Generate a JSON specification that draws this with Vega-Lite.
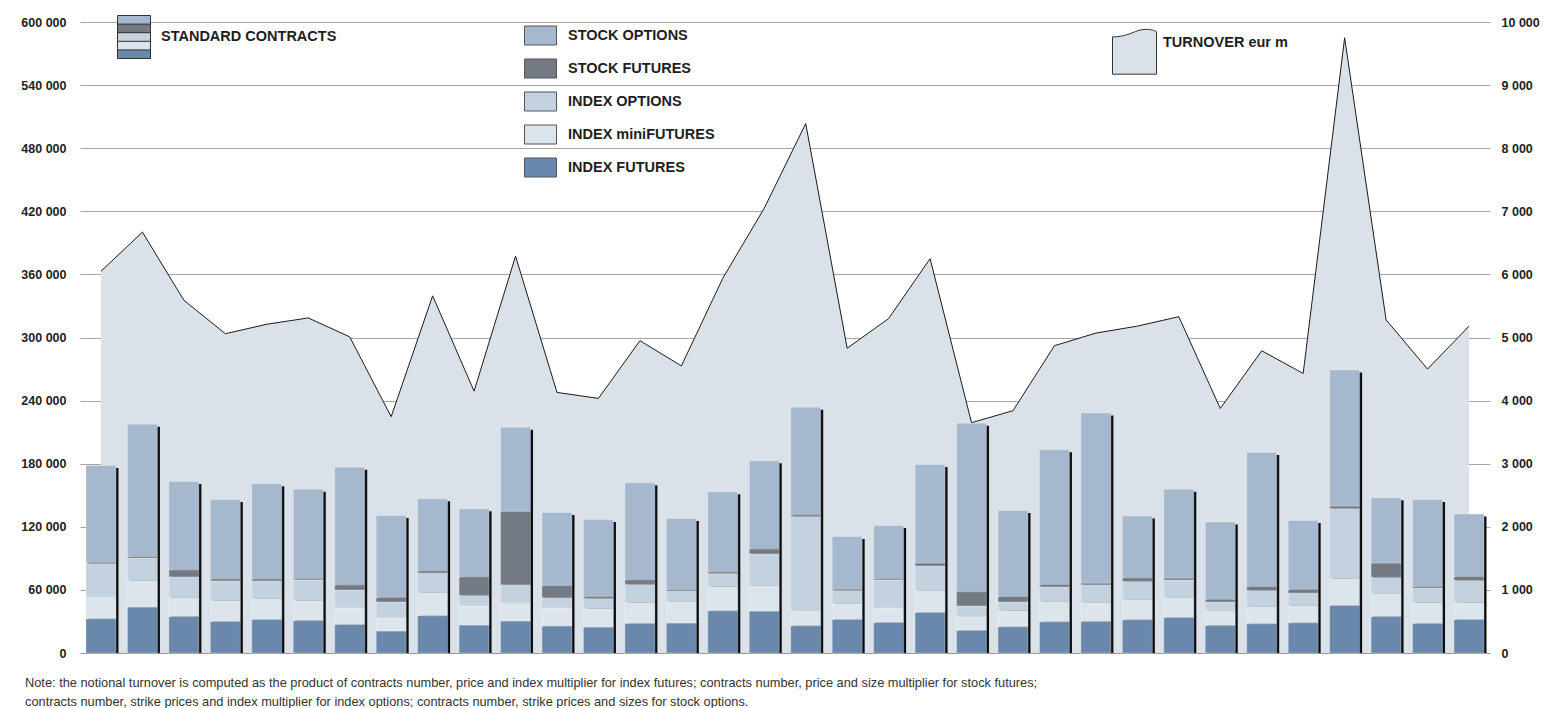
{
  "$schema": "https://vega.github.io/schema/vega-lite/v6.json",
  "width": 1410,
  "height": 631,
  "autosize": {"type": "none"},
  "padding": {"left": 80, "top": 22, "right": 68, "bottom": 55},
  "background": "#ffffff",
  "config": {
    "font": "Liberation Sans",
    "locale": {"number": {"decimal": ".", "thousands": " ", "grouping": [3], "currency": ["", ""]}},
    "view": {"stroke": null},
    "axis": {"labelFont": "Liberation Sans", "labelFontSize": 12.5, "labelFontWeight": "bold", "labelColor": "#222222", "title": null},
    "legend": {"padding": 0, "labelFont": "Liberation Sans", "labelFontSize": 14.5, "labelFontWeight": "bold", "labelColor": "#1e1e1e", "orient": "none", "title": null, "labelLimit": 400, "symbolOpacity": 1}
  },
  "data": {"values": [
    {"p": 1, "INDEX FUTURES": 32600, "INDEX miniFUTURES": 20600, "INDEX OPTIONS": 32000, "STOCK FUTURES": 1000, "STOCK OPTIONS": 92100, "turnover": 6050},
    {"p": 2, "INDEX FUTURES": 43700, "INDEX miniFUTURES": 25000, "INDEX OPTIONS": 21600, "STOCK FUTURES": 1500, "STOCK OPTIONS": 125800, "turnover": 6670},
    {"p": 3, "INDEX FUTURES": 34800, "INDEX miniFUTURES": 17800, "INDEX OPTIONS": 19900, "STOCK FUTURES": 6700, "STOCK OPTIONS": 83900, "turnover": 5590},
    {"p": 4, "INDEX FUTURES": 30100, "INDEX miniFUTURES": 19600, "INDEX OPTIONS": 19000, "STOCK FUTURES": 1900, "STOCK OPTIONS": 75400, "turnover": 5060},
    {"p": 5, "INDEX FUTURES": 32000, "INDEX miniFUTURES": 19600, "INDEX OPTIONS": 17100, "STOCK FUTURES": 1900, "STOCK OPTIONS": 90300, "turnover": 5210},
    {"p": 6, "INDEX FUTURES": 31000, "INDEX miniFUTURES": 18700, "INDEX OPTIONS": 19700, "STOCK FUTURES": 1200, "STOCK OPTIONS": 85200, "turnover": 5310},
    {"p": 7, "INDEX FUTURES": 27200, "INDEX miniFUTURES": 15600, "INDEX OPTIONS": 17100, "STOCK FUTURES": 5000, "STOCK OPTIONS": 111800, "turnover": 5010},
    {"p": 8, "INDEX FUTURES": 20900, "INDEX miniFUTURES": 12400, "INDEX OPTIONS": 15200, "STOCK FUTURES": 4400, "STOCK OPTIONS": 77900, "turnover": 3745},
    {"p": 9, "INDEX FUTURES": 35500, "INDEX miniFUTURES": 21800, "INDEX OPTIONS": 18700, "STOCK FUTURES": 2200, "STOCK OPTIONS": 68400, "turnover": 5660},
    {"p": 10, "INDEX FUTURES": 26600, "INDEX miniFUTURES": 18100, "INDEX OPTIONS": 10100, "STOCK FUTURES": 17700, "STOCK OPTIONS": 64600, "turnover": 4150},
    {"p": 11, "INDEX FUTURES": 30400, "INDEX miniFUTURES": 17100, "INDEX OPTIONS": 17400, "STOCK FUTURES": 69700, "STOCK OPTIONS": 80100, "turnover": 6290},
    {"p": 12, "INDEX FUTURES": 25700, "INDEX miniFUTURES": 17100, "INDEX OPTIONS": 9800, "STOCK FUTURES": 11700, "STOCK OPTIONS": 69300, "turnover": 4130},
    {"p": 13, "INDEX FUTURES": 24700, "INDEX miniFUTURES": 17400, "INDEX OPTIONS": 9800, "STOCK FUTURES": 1900, "STOCK OPTIONS": 73200, "turnover": 4035},
    {"p": 14, "INDEX FUTURES": 28200, "INDEX miniFUTURES": 19600, "INDEX OPTIONS": 17400, "STOCK FUTURES": 4500, "STOCK OPTIONS": 92100, "turnover": 4950},
    {"p": 15, "INDEX FUTURES": 28500, "INDEX miniFUTURES": 20300, "INDEX OPTIONS": 10100, "STOCK FUTURES": 1300, "STOCK OPTIONS": 67700, "turnover": 4550},
    {"p": 16, "INDEX FUTURES": 40200, "INDEX miniFUTURES": 22800, "INDEX OPTIONS": 12700, "STOCK FUTURES": 1600, "STOCK OPTIONS": 76000, "turnover": 5940},
    {"p": 17, "INDEX FUTURES": 39900, "INDEX miniFUTURES": 24100, "INDEX OPTIONS": 30400, "STOCK FUTURES": 4700, "STOCK OPTIONS": 83600, "turnover": 7050},
    {"p": 18, "INDEX FUTURES": 26000, "INDEX miniFUTURES": 14500, "INDEX OPTIONS": 89300, "STOCK FUTURES": 1600, "STOCK OPTIONS": 102300, "turnover": 8390},
    {"p": 19, "INDEX FUTURES": 32000, "INDEX miniFUTURES": 14900, "INDEX OPTIONS": 12600, "STOCK FUTURES": 1300, "STOCK OPTIONS": 50000, "turnover": 4830},
    {"p": 20, "INDEX FUTURES": 29100, "INDEX miniFUTURES": 13700, "INDEX OPTIONS": 26600, "STOCK FUTURES": 1200, "STOCK OPTIONS": 50700, "turnover": 5300},
    {"p": 21, "INDEX FUTURES": 38600, "INDEX miniFUTURES": 20900, "INDEX OPTIONS": 23200, "STOCK FUTURES": 2800, "STOCK OPTIONS": 93800, "turnover": 6250},
    {"p": 22, "INDEX FUTURES": 21500, "INDEX miniFUTURES": 12700, "INDEX OPTIONS": 10500, "STOCK FUTURES": 13600, "STOCK OPTIONS": 160200, "turnover": 3650},
    {"p": 23, "INDEX FUTURES": 25000, "INDEX miniFUTURES": 15200, "INDEX OPTIONS": 8300, "STOCK FUTURES": 5300, "STOCK OPTIONS": 81700, "turnover": 3840},
    {"p": 24, "INDEX FUTURES": 29800, "INDEX miniFUTURES": 19000, "INDEX OPTIONS": 14200, "STOCK FUTURES": 2200, "STOCK OPTIONS": 128000, "turnover": 4870},
    {"p": 25, "INDEX FUTURES": 30100, "INDEX miniFUTURES": 17700, "INDEX OPTIONS": 17100, "STOCK FUTURES": 1600, "STOCK OPTIONS": 161800, "turnover": 5070},
    {"p": 26, "INDEX FUTURES": 31700, "INDEX miniFUTURES": 19000, "INDEX OPTIONS": 17400, "STOCK FUTURES": 3500, "STOCK OPTIONS": 58600, "turnover": 5180},
    {"p": 27, "INDEX FUTURES": 33900, "INDEX miniFUTURES": 18700, "INDEX OPTIONS": 16800, "STOCK FUTURES": 1900, "STOCK OPTIONS": 84500, "turnover": 5330},
    {"p": 28, "INDEX FUTURES": 26300, "INDEX miniFUTURES": 14200, "INDEX OPTIONS": 8000, "STOCK FUTURES": 2500, "STOCK OPTIONS": 73500, "turnover": 3875},
    {"p": 29, "INDEX FUTURES": 27900, "INDEX miniFUTURES": 16100, "INDEX OPTIONS": 15500, "STOCK FUTURES": 3800, "STOCK OPTIONS": 127400, "turnover": 4790},
    {"p": 30, "INDEX FUTURES": 28800, "INDEX miniFUTURES": 16200, "INDEX OPTIONS": 12000, "STOCK FUTURES": 3500, "STOCK OPTIONS": 65500, "turnover": 4430},
    {"p": 31, "INDEX FUTURES": 45300, "INDEX miniFUTURES": 25300, "INDEX OPTIONS": 66800, "STOCK FUTURES": 2300, "STOCK OPTIONS": 129500, "turnover": 9750},
    {"p": 32, "INDEX FUTURES": 34800, "INDEX miniFUTURES": 21600, "INDEX OPTIONS": 15500, "STOCK FUTURES": 13600, "STOCK OPTIONS": 62100, "turnover": 5280},
    {"p": 33, "INDEX FUTURES": 28200, "INDEX miniFUTURES": 19600, "INDEX OPTIONS": 14000, "STOCK FUTURES": 1500, "STOCK OPTIONS": 82700, "turnover": 4500},
    {"p": 34, "INDEX FUTURES": 32000, "INDEX miniFUTURES": 15800, "INDEX OPTIONS": 21200, "STOCK FUTURES": 3800, "STOCK OPTIONS": 59300, "turnover": 5180}
  ]},
  "title": {
    "text": ["Note: the notional turnover is computed as the product of contracts number, price and index multiplier for index futures; contracts number, price and size multiplier for stock futures;", "contracts number, strike prices and index multiplier for index options; contracts number, strike prices and sizes for stock options."],
    "orient": "bottom", "anchor": "start", "frame": "group", "dx": -55, "offset": 17,
    "font": "Liberation Sans", "fontSize": 12.8, "fontWeight": "normal", "color": "#333333", "lineHeight": 19
  },
  "encoding": {
    "x": {"field": "p", "type": "ordinal", "scale": {"paddingInner": 0.277, "paddingOuter": 0.145},
      "axis": {"labels": false, "ticks": false, "domain": true, "domainColor": "#9a9a9a", "grid": false, "title": null}}
  },
  "layer": [
    {
      "encoding": {
        "y": {"field": "turnover", "type": "quantitative", "scale": {"domain": [0, 10000], "nice": false, "zero": true},
          "axis": {"orient": "right", "values": [0, 1000, 2000, 3000, 4000, 5000, 6000, 7000, 8000, 9000, 10000], "format": ",d", "grid": false, "domain": false, "ticks": false, "labelPadding": 11, "title": null}}
      },
      "layer": [
        {"mark": {"type": "area"},
         "encoding": {"fill": {"datum": "TURNOVER eur m", "type": "nominal", "scale": {"range": ["#dae1e9"]},
           "legend": {"orient": "none", "legendX": 1044, "legendY": 10, "title": null, "symbolSize": 400, "labelOffset": 18,
             "symbolType": "M-2.2,3.17L-2.2,-0.56C-1.5,-0.56 -0.8,-0.7 0.1,-1.1C0.6,-1.3 1.1,-1.34 1.5,-1.3C1.9,-1.25 2.2,-1.1 2.2,-1.06L2.2,3.17Z",
             "symbolStrokeColor": "#333333", "symbolStrokeWidth": 1, "symbolOpacity": 1}}}},
        {"mark": {"type": "line", "color": "#1a1a1a", "strokeWidth": 1}, "encoding": {}}
      ]
    },
    {
      "transform": [
        {"fold": ["INDEX FUTURES", "INDEX miniFUTURES", "INDEX OPTIONS", "STOCK FUTURES", "STOCK OPTIONS"], "as": ["type", "v"]},
        {"window": [{"op": "row_number", "as": "k"}], "groupby": ["p"]}
      ],
      "encoding": {
        "y": {"aggregate": "sum", "field": "v", "type": "quantitative", "scale": {"domain": [0, 600000], "nice": false, "zero": true},
          "axis": {"orient": "left", "values": [0, 60000, 120000, 180000, 240000, 300000, 360000, 420000, 480000, 540000, 600000], "format": ",d", "grid": true, "gridColor": "#a6a6a6", "gridWidth": 1, "domain": false, "ticks": false, "labelPadding": 14, "title": null}}
      },
      "layer": [
        {"mark": {"type": "bar", "color": "#0d0d0d", "xOffset": 2.5, "yOffset": 2.5, "y2Offset": 2.5}, "encoding": {}},
        {"mark": {"type": "bar", "opacity": 0, "fill": {"gradient": "linear", "x1": 0, "y1": 0, "x2": 0, "y2": 1, "stops": [
                 {"offset": 0, "color": "#a6b8cd"}, {"offset": 0.2, "color": "#a6b8cd"},
                 {"offset": 0.2, "color": "#737a84"}, {"offset": 0.4, "color": "#737a84"},
                 {"offset": 0.4, "color": "#c4d1de"}, {"offset": 0.6, "color": "#c4d1de"},
                 {"offset": 0.6, "color": "#dce4ec"}, {"offset": 0.8, "color": "#dce4ec"},
                 {"offset": 0.8, "color": "#6a88ab"}, {"offset": 1, "color": "#6a88ab"}]}},
         "encoding": {"stroke": {"datum": "STANDARD CONTRACTS", "type": "nominal", "scale": {"range": ["#333333"]},
           "legend": {"orient": "none", "legendX": 43.5, "legendY": 4.5, "title": null, "symbolSize": 400, "labelOffset": 16.5,
             "symbolType": "M-1.65,-2.15H1.65V2.15H-1.65Z M-1.65,-1.29H1.65 M-1.65,-0.43H1.65 M-1.65,0.43H1.65 M-1.65,1.29H1.65",
             "symbolStrokeWidth": 1, "symbolOpacity": 1}}}},
        {"mark": {"type": "bar", "stroke": "#ffffff", "strokeWidth": 0.6, "strokeOpacity": 0.45},
         "encoding": {
           "order": {"field": "k", "type": "quantitative", "sort": "ascending"},
           "color": {"field": "type", "type": "nominal",
           "sort": ["STOCK OPTIONS", "STOCK FUTURES", "INDEX OPTIONS", "INDEX miniFUTURES", "INDEX FUTURES"],
           "scale": {"range": ["#a6b8cd", "#737a84", "#c4d1de", "#dce4ec", "#6a88ab"]},
           "legend": {"orient": "none", "legendX": 450, "legendY": 3, "title": null, "symbolSize": 400, "labelOffset": 17, "rowPadding": 10,
             "symbolType": "M-1.6,-0.95H1.6V0.95H-1.6Z", "symbolStrokeColor": "#555555", "symbolStrokeWidth": 1, "symbolOpacity": 1}}}}
      ]
    }
  ],
  "resolve": {"scale": {"y": "independent"}}
}
